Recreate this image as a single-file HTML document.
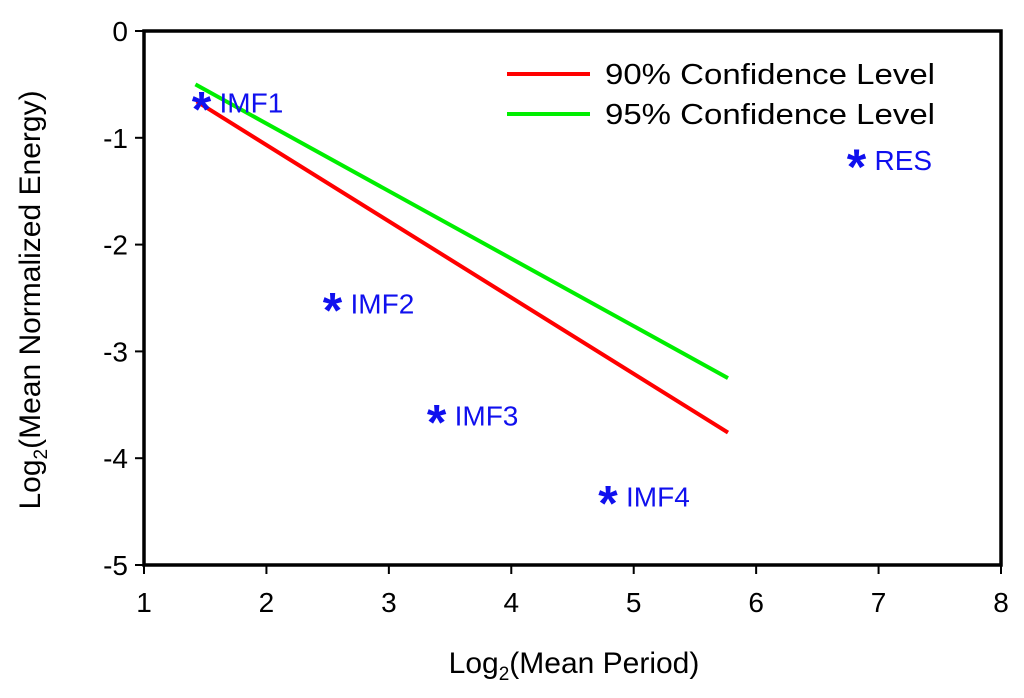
<!DOCTYPE html>
<html><head><meta charset="utf-8"><style>
body{margin:0;background:#fff;}
svg{display:block;font-family:"Liberation Sans",Arial,sans-serif;}
</style></head><body>
<svg id="chart" width="1024" height="698">
<g id="axes"></g>
<g id="series"></g>
<g>
<line x1="507" y1="74" x2="590" y2="74" stroke="#ff0000" stroke-width="4"/>
<text x="605" y="84" font-size="29" textLength="330" lengthAdjust="spacingAndGlyphs">90% Confidence Level</text>
<line x1="507" y1="114" x2="590" y2="114" stroke="#00ee00" stroke-width="4"/>
<text x="605" y="124" font-size="29" textLength="330" lengthAdjust="spacingAndGlyphs">95% Confidence Level</text>
</g>
<text x="574" y="673" font-size="30" text-anchor="middle">Log<tspan font-size="19" dy="7">2</tspan><tspan dy="-7">(Mean Period)</tspan></text>
<text transform="translate(40,300) rotate(-90)" font-size="30" text-anchor="middle">Log<tspan font-size="19" dy="7">2</tspan><tspan dy="-7">(Mean Normalized Energy)</tspan></text>
</svg>
<script>
const xTicks=[1,2,3,4,5,6,7,8];
const yTicks=[0,-1,-2,-3,-4,-5];
const pointLabels=["IMF1","IMF2","IMF3","IMF4","RES"];
const pointX=[1.47,2.54,3.39,4.79,6.82];
const pointY=[-0.67,-2.55,-3.60,-4.36,-1.21];
const line90X=[1.43,5.77];
const line90Y=[-0.66,-3.76];
const line95X=[1.42,5.77];
const line95Y=[-0.50,-3.25];
const NS="http://www.w3.org/2000/svg";
const X0=144,X1=1001,Y0=31,Y1=565;
const sx=v=>X0+(v-1)/7*(X1-X0);
const sy=v=>Y0+(-v)/5*(Y1-Y0);
function mk(tag,attrs,parent){const e=document.createElementNS(NS,tag);for(const k in attrs)e.setAttribute(k,attrs[k]);parent.appendChild(e);return e;}
const ax=document.getElementById('axes'),se=document.getElementById('series');
const box=mk('rect',{x:X0,y:Y0,width:X1-X0,height:Y1-Y0,fill:'none',stroke:'#000','stroke-width':3.5},ax);


xTicks.forEach(t=>{
 const l=mk('line',{x1:sx(t),x2:sx(t),y1:Y1,y2:Y1+9,stroke:'#000','stroke-width':2},ax);
 
 
 const tx=mk('text',{x:sx(t),y:Y1+47,'font-size':28,'text-anchor':'middle'},ax);tx.textContent=t;
 
 
});
yTicks.forEach(t=>{
 const l=mk('line',{x1:X0-9,x2:X0,y1:sy(t),y2:sy(t),stroke:'#000','stroke-width':2},ax);
 
 
 const tx=mk('text',{x:X0-16,y:sy(t)+10,'font-size':28,'text-anchor':'end'},ax);tx.textContent=t;
 
 
});
const r=mk('line',{x1:sx(line90X[0]),y1:sy(line90Y[0]),x2:sx(line90X[1]),y2:sy(line90Y[1]),stroke:'#ff0000','stroke-width':4},se);


const g=mk('line',{x1:sx(line95X[0]),y1:sy(line95Y[0]),x2:sx(line95X[1]),y2:sy(line95Y[1]),stroke:'#00ee00','stroke-width':4},se);


pointX.forEach((v,i)=>{
 const s=mk('text',{x:sx(v),y:sy(pointY[i])+24,'font-size':50,'font-weight':'bold','text-anchor':'middle',fill:'#1010ee'},se);s.textContent='*';
 
 
 const t=mk('text',{x:sx(v)+18,y:sy(pointY[i])+10,'font-size':28,fill:'#1010ee'},se);t.textContent=pointLabels[i];
 
 
});
</script>
</body></html>
